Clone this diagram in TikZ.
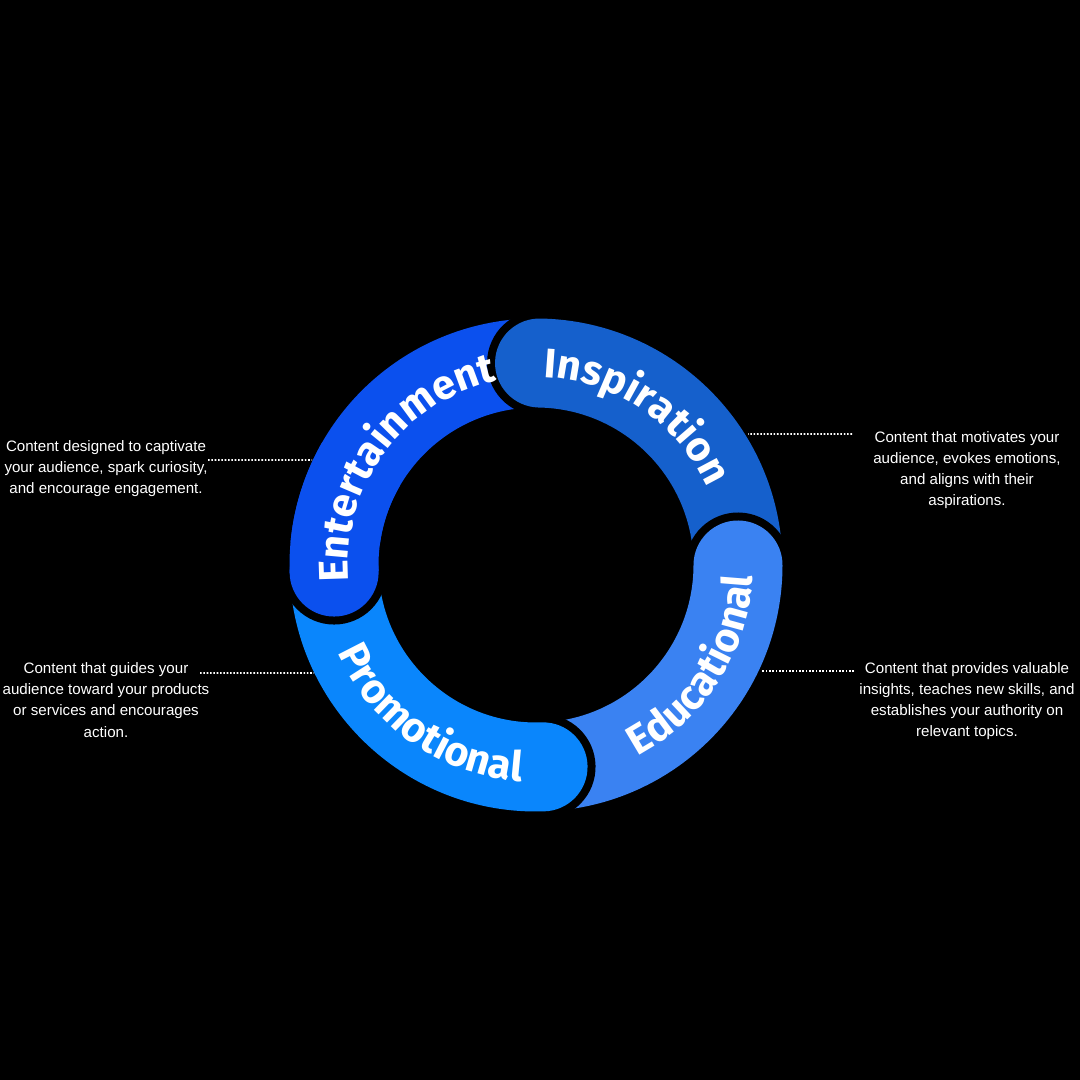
\documentclass[tikz,border=0pt]{standalone}
\usepackage{fontspec}
\setmainfont{Liberation Sans}
\newfontfamily\ringfont{Fira Sans}
\usetikzlibrary{decorations.text}
\definecolor{entblue}{HTML}{0B50EE}
\definecolor{insblue}{HTML}{1560CC}
\definecolor{edublue}{HTML}{3A82F2}
\definecolor{problue}{HTML}{0A86FC}
\tikzset{
  segment/.style  = {line width=0.89cm, line cap=round},
  rim/.style      = {line width=1.05cm, line cap=round, black},
  desc/.style     = {align=center, text=white, font=\fontsize{4.3}{6}\selectfont},
  leader/.style   = {white, line width=0.45pt, dash pattern=on 0.45pt off 0.5pt},
  ringtext/.style = {decorate, decoration={text along path, text align=center,
                     text={|\ringfont\bfseries\fontsize{11.8}{14}\selectfont\color{white}|#1}}}
}
\begin{document}
\begin{tikzpicture}
  \fill[black] (0,0) rectangle (10.8,10.8);
  \useasboundingbox (0,0) rectangle (10.8,10.8);
  \begin{scope}[shift={(5.36,5.15)}]
    % ring segments, each one's round end over the next
    \draw[rim] (89:2.02) arc (89:182:2.02);
    \draw[segment, entblue] (89:2.02) arc (89:182:2.02);
    \draw[rim] (0:2.02) arc (0:89:2.02);
    \draw[segment, insblue] (0:2.02) arc (0:89:2.02);
    \draw[rim] (-88:2.02) arc (-88:0:2.02);
    \draw[segment, edublue] (-88:2.02) arc (-88:0:2.02);
    \draw[rim] (182:2.02) arc (182:272:2.02);
    \draw[segment, problue] (182:2.02) arc (182:272:2.02);
    % round end of the first segment, over the last one
    \fill[black] (182:2.02) circle (0.525);
    \fill[entblue] (182:2.02) circle (0.445);
    \draw[segment, entblue, line cap=butt] (150:2.02) arc (150:182:2.02);
    % labels on the ring
    \path[ringtext=Entertainment] (195:1.88) arc (195:92:1.88);
    \path[ringtext=Inspiration] (110:1.88) arc (110:2:1.88);
    \path[ringtext=Promotional] (180:2.17) arc (180:290:2.17);
    \path[ringtext=Educational] (275:2.17) arc (275:380:2.17);
    % ends of the leaders on the ring
    \coordinate (entpt) at (-2.24,1.05);
    \coordinate (inspt) at (2.12,1.31);
    \coordinate (propt) at (-2.22,-1.08);
    \coordinate (edupt) at (2.26,-1.06);
  \end{scope}
  \node[desc] (entdesc) at (1.06,6.11) {Content designed to captivate\\your audience, spark curiosity,\\and encourage engagement.};
  \node[desc] (insdesc) at (9.67,6.10) {Content that motivates your\\audience, evokes emotions,\\and aligns with their\\aspirations.};
  \node[desc] (prodesc) at (1.06,3.80) {Content that guides your\\audience toward your products\\or services and encourages\\action.};
  \node[desc] (edudesc) at (9.67,3.79) {Content that provides valuable\\insights, teaches new skills, and\\establishes your authority on\\relevant topics.};
  \draw[leader] (2.08,6.20) -- (entpt);
  \draw[leader] (8.52,6.46) -- (inspt);
  \draw[leader] (2.00,4.07) -- (propt);
  \draw[leader] (8.54,4.09) -- (edupt);
\end{tikzpicture}
\end{document}
